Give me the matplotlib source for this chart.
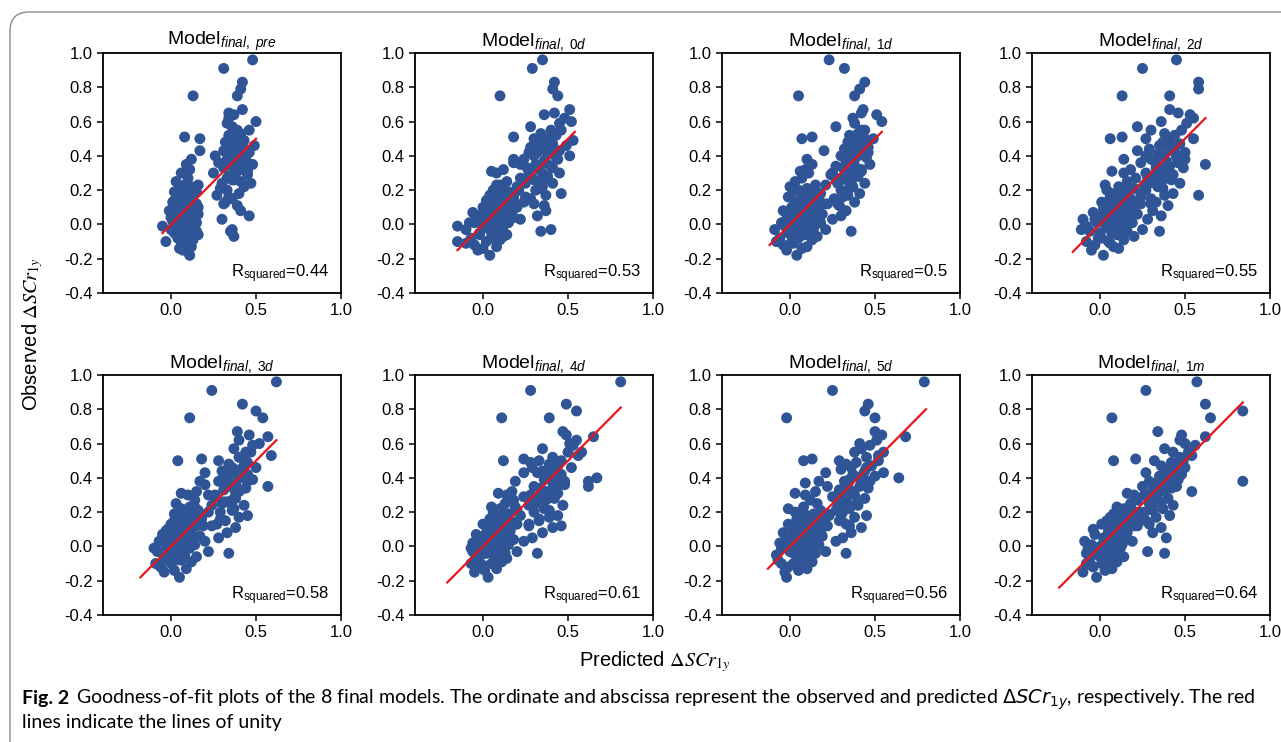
import matplotlib
matplotlib.use("Agg")
from matplotlib import pyplot as plt
from matplotlib.patches import FancyBboxPatch
import numpy as np

plt.rcParams['font.family'] = ['Liberation Sans', 'DejaVu Sans']
plt.rcParams['mathtext.fontset'] = 'custom'
plt.rcParams['mathtext.rm'] = 'Liberation Sans'
plt.rcParams['mathtext.it'] = 'Liberation Sans:italic'
plt.rcParams['mathtext.bf'] = 'Liberation Sans:bold'

#%% Data: observed values (shared) and predicted values per model
observed = [
    -0.18, -0.15, -0.14, -0.13, -0.12, -0.10, -0.10, -0.09, -0.08, -0.07,
    -0.06, -0.05, -0.05, -0.04, -0.04, -0.03, -0.03, -0.02, -0.01, -0.01,
    0.00, 0.00, 0.01, 0.01, 0.02, 0.02, 0.03, 0.03, 0.04, 0.04,
    0.05, 0.05, 0.06, 0.06, 0.07, 0.07, 0.08, 0.08, 0.08, 0.09,
    0.10, 0.10, 0.11, 0.11, 0.12, 0.12, 0.13, 0.13, 0.14, 0.15,
    0.15, 0.16, 0.17, 0.17, 0.18, 0.18, 0.19, 0.20, 0.20, 0.21,
    0.22, 0.22, 0.23, 0.24, 0.24, 0.25, 0.26, 0.27, 0.28, 0.29,
    0.30, 0.30, 0.31, 0.32, 0.32, 0.33, 0.34, 0.35, 0.35, 0.36,
    0.37, 0.38, 0.38, 0.39, 0.40, 0.40, 0.41, 0.42, 0.43, 0.43,
    0.44, 0.45, 0.46, 0.47, 0.48, 0.49, 0.50, 0.50, 0.51, 0.52,
    0.53, 0.55, 0.57, 0.59, 0.60, 0.62, 0.64, 0.65, 0.67, 0.75,
    0.75, 0.79, 0.83, 0.91, 0.96,
    -0.11, -0.08, -0.06, -0.04, -0.02, 0.00, 0.01, 0.03, 0.04, 0.06,
    0.07, 0.09, 0.10, 0.12, 0.13, 0.15, 0.16, 0.18, 0.20, 0.23,
    0.02, 0.05, 0.09, 0.14, 0.19, 0.25, 0.27, 0.30, 0.33, 0.36,
    0.12, 0.16, 0.21, 0.26, 0.31, 0.38, 0.42, 0.46, 0.50, 0.55]

pred_pre = [
    0.11, 0.07, 0.05, 0.12, 0.09, -0.03, 0.06, 0.13, 0.04, 0.37,
    0.16, 0.02, 0.08, 0.35, 0.10, 0.00, 0.36, 0.06, -0.05, 0.13,
    0.03, 0.09, 0.15, 0.05, 0.01, 0.11, 0.07, 0.30, 0.00, 0.13,
    0.04, 0.46, 0.08, 0.16, 0.02, 0.11, -0.01, 0.06, 0.41, 0.14,
    0.03, 0.09, 0.12, 0.39, 0.05, 0.15, 0.01, 0.32, 0.08, 0.11,
    0.36, 0.04, 0.13, 0.27, 0.07, 0.40, 0.02, 0.10, 0.33, 0.05,
    0.12, 0.43, 0.08, 0.30, 0.47, 0.03, 0.37, 0.10, 0.34, 0.45,
    0.06, 0.25, 0.39, 0.11, 0.42, 0.31, 0.36, 0.09, 0.48, 0.28,
    0.40, 0.12, 0.33, 0.44, 0.36, 0.26, 0.38, 0.46, 0.17, 0.31,
    0.41, 0.35, 0.49, 0.39, 0.32, 0.43, 0.17, 0.37, 0.08, 0.34,
    0.41, 0.39, 0.36, 0.33, 0.50, 0.34, 0.37, 0.34, 0.42, 0.13,
    0.39, 0.41, 0.42, 0.31, 0.48,
    0.08, 0.12, 0.04, 0.15, 0.09, 0.12, 0.06, 0.14, 0.02, 0.10,
    0.14, 0.05, 0.16, 0.08, 0.12, 0.03, 0.09, 0.14, 0.07, 0.16,
    0.13, 0.10, 0.06, 0.02, 0.15, 0.41, 0.33, 0.38, 0.44, 0.32,
    0.31, 0.34, 0.29, 0.36, 0.45, 0.40, 0.33, 0.42, 0.38, 0.46]

pred_0d = [
    0.04, -0.03, 0.00, 0.08, -0.05, -0.15, 0.02, 0.10, -0.07, 0.12,
    0.14, -0.02, 0.05, 0.34, 0.09, -0.10, 0.40, 0.03, -0.15, 0.12,
    0.01, 0.07, 0.15, -0.08, 0.04, 0.11, -0.04, 0.22, 0.06, 0.18,
    -0.02, 0.32, 0.09, 0.13, -0.06, 0.05, 0.02, 0.16, 0.37, 0.08,
    0.00, 0.11, 0.06, 0.36, 0.14, 0.19, 0.03, 0.24, 0.10, 0.07,
    0.28, 0.12, 0.04, 0.37, 0.09, 0.46, 0.15, 0.06, 0.31, 0.11,
    0.20, 0.35, 0.08, 0.25, 0.41, 0.14, 0.30, 0.22, 0.38, 0.27,
    0.08, 0.45, 0.05, 0.12, 0.33, 0.26, 0.40, 0.22, 0.31, 0.18,
    0.36, 0.18, 0.24, 0.43, 0.30, 0.51, 0.38, 0.27, 0.45, 0.33,
    0.39, 0.28, 0.35, 0.41, 0.32, 0.53, 0.30, 0.37, 0.18, 0.43,
    0.34, 0.40, 0.28, 0.45, 0.52, 0.48, 0.36, 0.42, 0.51, 0.10,
    0.44, 0.41, 0.42, 0.29, 0.35,
    -0.10, 0.05, -0.02, 0.08, 0.00, 0.10, -0.05, 0.12, 0.03, 0.17,
    0.01, 0.13, 0.20, 0.08, 0.15, 0.04, 0.18, 0.12, 0.21, 0.10,
    0.09, -0.03, 0.14, 0.02, 0.19, 0.33, 0.29, 0.35, 0.41, 0.37,
    0.30, 0.25, 0.34, 0.36, 0.27, 0.44, 0.32, 0.49, 0.39, 0.46]

pred_1d = [
    0.04, -0.02, 0.07, 0.10, -0.04, -0.08, 0.01, 0.13, 0.05, 0.16,
    0.08, -0.01, 0.11, 0.36, 0.03, -0.09, 0.21, 0.14, -0.03, 0.06,
    0.00, 0.09, 0.18, -0.05, 0.12, 0.04, -0.02, 0.25, 0.07, 0.15,
    0.02, 0.30, -0.01, 0.19, 0.10, 0.05, 0.13, -0.04, 0.33, 0.08,
    0.16, 0.01, 0.06, 0.29, 0.11, 0.20, 0.03, 0.38, 0.09, 0.14,
    0.26, -0.01, 0.07, 0.34, 0.12, 0.41, 0.02, 0.05, 0.30, 0.10,
    0.00, 0.37, 0.15, 0.28, 0.44, 0.03, 0.33, 0.07, 0.40, 0.24,
    0.11, 0.35, 0.06, 0.09, 0.42, 0.31, 0.27, 0.13, 0.47, 0.36,
    0.33, 0.10, 0.37, 0.45, 0.30, 0.40, 0.35, 0.43, 0.20, 0.38,
    0.32, 0.46, 0.41, 0.36, 0.34, 0.39, 0.07, 0.44, 0.13, 0.35,
    0.40, 0.42, 0.27, 0.38, 0.54, 0.37, 0.51, 0.42, 0.43, 0.05,
    0.38, 0.41, 0.44, 0.32, 0.23,
    0.02, -0.06, 0.09, 0.00, 0.12, -0.02, 0.06, 0.15, 0.10, 0.03,
    0.17, 0.08, 0.12, 0.22, 0.04, 0.14, 0.09, 0.18, 0.13, 0.21,
    0.05, 0.13, 0.02, 0.17, 0.09, 0.36, 0.30, 0.25, 0.39, 0.33,
    0.28, 0.31, 0.35, 0.27, 0.42, 0.38, 0.46, 0.40, 0.49, 0.44]

pred_2d = [
    0.02, -0.05, 0.11, 0.08, -0.03, -0.08, 0.05, 0.14, -0.01, 0.20,
    0.12, 0.00, 0.07, 0.35, 0.16, -0.11, 0.25, 0.04, -0.08, 0.10,
    0.06, 0.13, -0.02, 0.19, 0.03, 0.09, -0.10, 0.28, 0.00, 0.15,
    0.04, 0.36, 0.10, 0.22, -0.04, 0.07, 0.12, 0.17, 0.31, 0.02,
    0.09, 0.14, 0.05, 0.40, 0.18, 0.24, 0.01, 0.33, 0.11, 0.06,
    0.30, 0.13, 0.58, 0.38, 0.08, 0.43, 0.16, 0.04, 0.27, 0.20,
    0.11, 0.34, 0.03, 0.29, 0.47, 0.16, 0.37, 0.21, 0.31, 0.43,
    0.14, 0.27, 0.07, 0.18, 0.36, 0.49, 0.41, 0.62, 0.33, 0.24,
    0.39, 0.14, 0.30, 0.45, 0.36, 0.27, 0.34, 0.50, 0.22, 0.40,
    0.29, 0.43, 0.35, 0.47, 0.37, 0.41, 0.06, 0.27, 0.13, 0.44,
    0.38, 0.30, 0.22, 0.51, 0.36, 0.55, 0.53, 0.46, 0.41, 0.13,
    0.41, 0.58, 0.58, 0.25, 0.45,
    0.06, 0.01, 0.10, -0.06, 0.14, 0.03, 0.08, -0.03, 0.18, 0.12,
    0.05, 0.16, 0.09, 0.21, 0.13, 0.18, 0.06, 0.24, 0.15, 0.26,
    0.11, 0.01, 0.19, 0.07, 0.14, 0.35, 0.28, 0.40, 0.33, 0.46,
    0.30, 0.24, 0.37, 0.42, 0.34, 0.50, 0.44, 0.39, 0.55, 0.48]

pred_3d = [
    0.05, -0.04, 0.02, 0.09, -0.06, -0.09, 0.00, 0.12, 0.06, -0.03,
    0.15, -0.02, 0.08, 0.34, 0.03, -0.08, 0.22, 0.01, -0.10, 0.11,
    -0.03, 0.05, 0.14, 0.00, 0.09, 0.02, -0.07, 0.20, 0.04, 0.12,
    -0.01, 0.28, 0.07, 0.17, -0.05, 0.03, 0.10, 0.01, 0.33, 0.06,
    -0.02, 0.12, 0.04, 0.38, 0.08, 0.19, 0.00, 0.27, 0.09, 0.02,
    0.32, 0.10, 0.05, 0.40, 0.13, 0.45, 0.02, 0.07, 0.29, 0.16,
    0.06, 0.37, 0.11, 0.24, 0.43, 0.03, 0.33, 0.14, 0.38, 0.26,
    0.10, 0.22, 0.06, 0.15, 0.40, 0.31, 0.44, 0.57, 0.35, 0.20,
    0.38, 0.17, 0.28, 0.48, 0.33, 0.42, 0.31, 0.45, 0.20, 0.36,
    0.30, 0.41, 0.36, 0.43, 0.34, 0.45, 0.04, 0.28, 0.18, 0.40,
    0.59, 0.44, 0.37, 0.48, 0.52, 0.40, 0.57, 0.46, 0.39, 0.11,
    0.54, 0.50, 0.42, 0.24, 0.62,
    -0.07, 0.03, -0.04, 0.06, -0.01, 0.08, 0.00, 0.04, 0.10, -0.02,
    0.12, 0.02, 0.07, 0.15, 0.05, 0.11, 0.18, 0.08, 0.22, 0.14,
    0.01, 0.08, -0.03, 0.12, 0.06, 0.30, 0.36, 0.26, 0.41, 0.33,
    0.24, 0.29, 0.36, 0.31, 0.38, 0.45, 0.40, 0.50, 0.43, 0.47]

pred_4d = [
    0.03, -0.05, 0.01, 0.08, -0.02, -0.07, 0.05, 0.11, -0.04, 0.14,
    0.09, -0.01, 0.06, 0.32, 0.13, -0.06, 0.20, 0.02, -0.07, 0.10,
    0.00, 0.07, 0.15, -0.03, 0.04, 0.12, -0.02, 0.24, 0.06, 0.18,
    0.01, 0.29, 0.09, 0.14, -0.04, 0.05, 0.11, 0.02, 0.35, 0.07,
    0.12, 0.03, 0.08, 0.41, 0.46, 0.17, 0.00, 0.27, 0.06, 0.10,
    0.33, 0.04, 0.12, 0.39, 0.08, 0.44, 0.15, 0.06, 0.30, 0.20,
    0.10, 0.36, 0.05, 0.27, 0.47, 0.13, 0.32, 0.18, 0.42, 0.24,
    0.14, 0.28, 0.09, 0.17, 0.38, 0.43, 0.34, 0.62, 0.30, 0.48,
    0.41, 0.19, 0.62, 0.36, 0.67, 0.44, 0.38, 0.46, 0.24, 0.32,
    0.35, 0.40, 0.29, 0.44, 0.39, 0.28, 0.12, 0.33, 0.24, 0.41,
    0.56, 0.50, 0.35, 0.53, 0.51, 0.55, 0.65, 0.49, 0.47, 0.11,
    0.39, 0.55, 0.49, 0.28, 0.81,
    0.00, -0.05, 0.07, 0.02, -0.03, 0.10, 0.04, 0.01, 0.13, 0.06,
    0.09, 0.16, 0.03, 0.13, 0.20, 0.08, 0.14, 0.22, 0.11, 0.19,
    -0.06, 0.09, 0.04, 0.18, 0.12, 0.31, 0.37, 0.34, 0.41, 0.45,
    0.27, 0.33, 0.39, 0.30, 0.44, 0.48, 0.36, 0.52, 0.46, 0.58]

pred_5d = [
    -0.02, -0.03, 0.05, 0.10, -0.01, -0.05, 0.02, 0.13, 0.07, 0.09,
    0.11, -0.08, 0.04, 0.33, 0.15, 0.00, 0.21, 0.06, -0.05, 0.12,
    -0.03, 0.08, 0.17, 0.03, 0.11, -0.06, 0.05, 0.27, 0.01, 0.14,
    0.06, 0.31, -0.02, 0.19, 0.09, 0.03, 0.13, -0.04, 0.36, 0.07,
    0.16, 0.02, 0.10, 0.42, 0.05, 0.22, -0.01, 0.33, 0.12, 0.08,
    0.29, 0.04, 0.19, 0.38, 0.10, 0.45, 0.14, 0.03, 0.31, 0.18,
    -0.01, 0.35, 0.08, 0.29, 0.40, 0.16, 0.33, 0.12, 0.44, 0.25,
    0.09, 0.30, 0.03, 0.15, 0.37, 0.29, 0.46, 0.22, 0.41, 0.34,
    0.09, 0.17, 0.32, 0.35, 0.64, 0.41, 0.50, 0.37, 0.21, 0.55,
    0.44, 0.30, 0.36, 0.48, 0.33, 0.39, 0.08, 0.29, 0.13, 0.45,
    0.52, 0.38, 0.42, 0.47, 0.41, 0.51, 0.68, 0.54, 0.50, -0.02,
    0.50, 0.44, 0.46, 0.25, 0.79,
    0.04, -0.07, 0.10, 0.02, 0.14, -0.04, 0.08, 0.16, 0.05, 0.11,
    0.03, 0.18, 0.12, 0.07, 0.20, 0.15, 0.10, 0.23, 0.06, 0.28,
    0.12, 0.01, 0.16, 0.09, 0.22, 0.34, 0.28, 0.38, 0.33, 0.42,
    0.35, 0.30, 0.27, 0.40, 0.36, 0.47, 0.43, 0.45, 0.52, 0.55]

pred_1m = [
    -0.02, -0.10, 0.03, 0.07, -0.04, -0.08, 0.01, 0.10, 0.05, -0.06,
    0.14, 0.02, 0.08, 0.38, 0.11, -0.03, 0.28, 0.05, -0.07, 0.12,
    0.00, 0.06, 0.13, -0.05, 0.09, 0.03, -0.09, 0.19, 0.04, 0.15,
    0.02, 0.39, 0.08, 0.12, -0.03, 0.06, 0.10, 0.16, 0.31, 0.05,
    -0.04, 0.13, 0.07, 0.36, 0.15, 0.20, 0.01, 0.29, 0.10, 0.04,
    0.27, 0.11, 0.06, 0.33, 0.17, 0.41, 0.08, 0.13, 0.26, 0.19,
    0.14, 0.37, 0.10, 0.30, 0.43, 0.18, 0.34, 0.22, 0.40, 0.28,
    0.20, 0.26, 0.16, 0.54, 0.35, 0.31, 0.42, 0.25, 0.45, 0.38,
    0.33, 0.84, 0.29, 0.46, 0.37, 0.40, 0.35, 0.48, 0.27, 0.44,
    0.41, 0.39, 0.50, 0.36, 0.45, 0.42, 0.08, 0.32, 0.21, 0.47,
    0.54, 0.43, 0.38, 0.56, 0.50, 0.47, 0.62, 0.48, 0.34, 0.07,
    0.65, 0.84, 0.62, 0.27, 0.57,
    -0.05, 0.03, 0.00, -0.08, 0.06, 0.02, 0.09, 0.04, 0.11, 0.07,
    0.05, 0.12, 0.15, 0.09, 0.17, 0.14, 0.21, 0.11, 0.23, 0.18,
    0.04, 0.10, 0.13, 0.07, 0.19, 0.29, 0.33, 0.27, 0.38, 0.41,
    0.22, 0.26, 0.31, 0.36, 0.34, 0.43, 0.46, 0.41, 0.49, 0.52]

model_tags = ['pre', '0d', '1d', '2d', '3d', '4d', '5d', '1m']
r_squared = ['0.44', '0.53', '0.5', '0.55', '0.58', '0.61', '0.56', '0.64']
unity_lo = [-0.05, -0.15, -0.12, -0.16, -0.18, -0.21, -0.13, -0.24]
unity_hi = [0.50, 0.54, 0.54, 0.62, 0.62, 0.81, 0.80, 0.84]
predicted = [pred_pre, pred_0d, pred_1d, pred_2d, pred_3d, pred_4d, pred_5d, pred_1m]

#%% Figure
W, H = 1281, 742
fig = plt.figure(figsize=(W / 100, H / 100), dpi=100)

frame = FancyBboxPatch((10 / W, -20 / H), 1300 / W, 750 / H,
                       boxstyle="round,pad=0,rounding_size=0.015",
                       transform=fig.transFigure, facecolor='none',
                       edgecolor='#8c8c8c', linewidth=1.0, mutation_aspect=W / H)
fig.patches.append(frame)

lefts = [103, 415, 722, 1032]
tops = [53, 375]
aw, ah = 238, 240
blue = '#2f5597'

for i, tag in enumerate(model_tags):
    r, c = divmod(i, 4)
    ax = fig.add_axes([lefts[c] / W, 1 - (tops[r] + ah) / H, aw / W, ah / H])
    ax.scatter(predicted[i], observed, s=62, color=blue, edgecolors='none', zorder=2)
    ax.plot([unity_lo[i], unity_hi[i]], [unity_lo[i], unity_hi[i]], color='#e8151b', lw=1.6, zorder=3)
    ax.set_xlim(-0.4, 1.0)
    ax.set_ylim(-0.4, 1.0)
    ax.set_xticks([0.0, 0.5, 1.0])
    ax.set_xticklabels(['0.0', '0.5', '1.0'])
    yt = np.arange(-0.4, 1.01, 0.2)
    ax.set_yticks(yt)
    ax.set_yticklabels(['%.1f' % v if abs(v) > 1e-9 else '0.0' for v in yt])
    ax.tick_params(direction='out', length=4, width=1.1, labelsize=12, top=False, right=False)
    for sp in ax.spines.values():
        sp.set_linewidth(1.3)
    ax.set_title(r'Model$_{\mathit{final,\ %s}}$' % tag, fontsize=14, pad=5)
    ax.text(0.95, 0.035, r'R$_{\mathrm{squared}}$=' + r_squared[i], transform=ax.transAxes,
            ha='right', va='bottom', fontsize=12)

fig.text(33 / W, 1 - 334 / H, r'Observed $\mathit{\Delta SCr_{1y}}$', rotation=90,
         ha='center', va='center', fontsize=14.5, math_fontfamily='stix')
fig.text(655 / W, 1 - 662 / H, r'Predicted $\mathit{\Delta SCr_{1y}}$',
         ha='center', va='center', fontsize=14.5, math_fontfamily='stix')

cap = dict(fontsize=14, family=['Lato', 'DejaVu Sans'], va='baseline')
fig.text(22 / W, 1 - 704 / H, 'Fig. 2', fontweight='bold', **cap)
fig.text(76 / W, 1 - 704 / H,
         r'Goodness-of-fit plots of the 8 final models. The ordinate and abscissa represent the observed and predicted '
         r'$\Delta \mathit{SCr}_{1y}$, respectively. The red', math_fontfamily='dejavusans', **cap)
fig.text(22 / W, 1 - 728 / H, 'lines indicate the lines of unity', **cap)

fig.savefig('out.png', dpi=100)
